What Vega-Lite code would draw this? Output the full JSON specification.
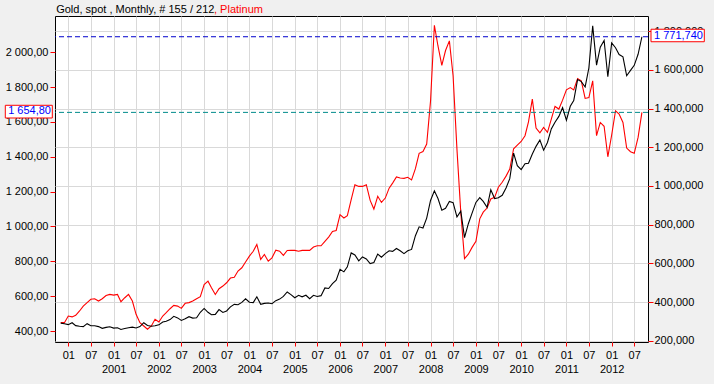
{
  "$schema": "https://vega.github.io/schema/vega-lite/v6.json",
  "width": 593,
  "height": 326,
  "autosize": {"type": "none"},
  "padding": {"left": 55, "top": 16, "right": 66, "bottom": 42},
  "background": "#f0f0f0",
  "config": {
    "locale": {"number": {"decimal": ",", "thousands": " ", "grouping": [3], "currency": ["", ""]}},
    "view": {"fill": "white", "stroke": "black", "strokeWidth": 1},
    "font": "Liberation Sans",
    "axis": {"labelFont": "Liberation Sans", "labelFontSize": 11, "labelColor": "black", "tickColor": "#ff0000", "domain": false, "gridColor": "#d9d9d9", "titleFont": "Liberation Sans", "titleFontSize": 11, "titleFontWeight": "normal"}
  },
  "datasets": {
    "prices": [
      {"date": "1999-11-01", "platinum": 448, "gold": 291},
      {"date": "1999-12-01", "platinum": 448, "gold": 288},
      {"date": "2000-01-01", "platinum": 486, "gold": 283},
      {"date": "2000-02-01", "platinum": 481, "gold": 293},
      {"date": "2000-03-01", "platinum": 490, "gold": 278},
      {"date": "2000-04-01", "platinum": 515, "gold": 275},
      {"date": "2000-05-01", "platinum": 543, "gold": 273},
      {"date": "2000-06-01", "platinum": 563, "gold": 288},
      {"date": "2000-07-01", "platinum": 582, "gold": 277},
      {"date": "2000-08-01", "platinum": 585, "gold": 277},
      {"date": "2000-09-01", "platinum": 572, "gold": 273},
      {"date": "2000-10-01", "platinum": 585, "gold": 264},
      {"date": "2000-11-01", "platinum": 604, "gold": 269},
      {"date": "2000-12-01", "platinum": 610, "gold": 272},
      {"date": "2001-01-01", "platinum": 606, "gold": 265},
      {"date": "2001-02-01", "platinum": 610, "gold": 267},
      {"date": "2001-03-01", "platinum": 568, "gold": 258},
      {"date": "2001-04-01", "platinum": 591, "gold": 263},
      {"date": "2001-05-01", "platinum": 610, "gold": 267},
      {"date": "2001-06-01", "platinum": 572, "gold": 270},
      {"date": "2001-07-01", "platinum": 496, "gold": 266},
      {"date": "2001-08-01", "platinum": 448, "gold": 273},
      {"date": "2001-09-01", "platinum": 429, "gold": 293},
      {"date": "2001-10-01", "platinum": 410, "gold": 279},
      {"date": "2001-11-01", "platinum": 429, "gold": 275},
      {"date": "2001-12-01", "platinum": 467, "gold": 277},
      {"date": "2002-01-01", "platinum": 452, "gold": 282},
      {"date": "2002-02-01", "platinum": 486, "gold": 297},
      {"date": "2002-03-01", "platinum": 505, "gold": 301},
      {"date": "2002-04-01", "platinum": 528, "gold": 309},
      {"date": "2002-05-01", "platinum": 547, "gold": 326},
      {"date": "2002-06-01", "platinum": 543, "gold": 318},
      {"date": "2002-07-01", "platinum": 530, "gold": 305},
      {"date": "2002-08-01", "platinum": 559, "gold": 313},
      {"date": "2002-09-01", "platinum": 563, "gold": 324},
      {"date": "2002-10-01", "platinum": 572, "gold": 317},
      {"date": "2002-11-01", "platinum": 585, "gold": 319},
      {"date": "2002-12-01", "platinum": 597, "gold": 347},
      {"date": "2003-01-01", "platinum": 667, "gold": 367},
      {"date": "2003-02-01", "platinum": 686, "gold": 347},
      {"date": "2003-03-01", "platinum": 648, "gold": 334},
      {"date": "2003-04-01", "platinum": 610, "gold": 336},
      {"date": "2003-05-01", "platinum": 643, "gold": 361},
      {"date": "2003-06-01", "platinum": 658, "gold": 346},
      {"date": "2003-07-01", "platinum": 677, "gold": 354},
      {"date": "2003-08-01", "platinum": 704, "gold": 375},
      {"date": "2003-09-01", "platinum": 709, "gold": 388},
      {"date": "2003-10-01", "platinum": 744, "gold": 386},
      {"date": "2003-11-01", "platinum": 763, "gold": 398},
      {"date": "2003-12-01", "platinum": 796, "gold": 417},
      {"date": "2004-01-01", "platinum": 830, "gold": 399},
      {"date": "2004-02-01", "platinum": 858, "gold": 397},
      {"date": "2004-03-01", "platinum": 897, "gold": 427},
      {"date": "2004-04-01", "platinum": 811, "gold": 388},
      {"date": "2004-05-01", "platinum": 839, "gold": 393},
      {"date": "2004-06-01", "platinum": 801, "gold": 395},
      {"date": "2004-07-01", "platinum": 820, "gold": 391},
      {"date": "2004-08-01", "platinum": 864, "gold": 407},
      {"date": "2004-09-01", "platinum": 858, "gold": 415},
      {"date": "2004-10-01", "platinum": 834, "gold": 429},
      {"date": "2004-11-01", "platinum": 862, "gold": 452},
      {"date": "2004-12-01", "platinum": 863, "gold": 438},
      {"date": "2005-01-01", "platinum": 863, "gold": 422},
      {"date": "2005-02-01", "platinum": 858, "gold": 435},
      {"date": "2005-03-01", "platinum": 863, "gold": 427},
      {"date": "2005-04-01", "platinum": 863, "gold": 435},
      {"date": "2005-05-01", "platinum": 863, "gold": 417},
      {"date": "2005-06-01", "platinum": 882, "gold": 435},
      {"date": "2005-07-01", "platinum": 889, "gold": 429},
      {"date": "2005-08-01", "platinum": 889, "gold": 433},
      {"date": "2005-09-01", "platinum": 914, "gold": 473},
      {"date": "2005-10-01", "platinum": 939, "gold": 470},
      {"date": "2005-11-01", "platinum": 971, "gold": 495},
      {"date": "2005-12-01", "platinum": 977, "gold": 513},
      {"date": "2006-01-01", "platinum": 1068, "gold": 569},
      {"date": "2006-02-01", "platinum": 1049, "gold": 556},
      {"date": "2006-03-01", "platinum": 1062, "gold": 582},
      {"date": "2006-04-01", "platinum": 1154, "gold": 654},
      {"date": "2006-05-01", "platinum": 1240, "gold": 643},
      {"date": "2006-06-01", "platinum": 1230, "gold": 613},
      {"date": "2006-07-01", "platinum": 1230, "gold": 633},
      {"date": "2006-08-01", "platinum": 1240, "gold": 623},
      {"date": "2006-09-01", "platinum": 1150, "gold": 599},
      {"date": "2006-10-01", "platinum": 1100, "gold": 604},
      {"date": "2006-11-01", "platinum": 1173, "gold": 648},
      {"date": "2006-12-01", "platinum": 1138, "gold": 632},
      {"date": "2007-01-01", "platinum": 1163, "gold": 650},
      {"date": "2007-02-01", "platinum": 1220, "gold": 665},
      {"date": "2007-03-01", "platinum": 1249, "gold": 662},
      {"date": "2007-04-01", "platinum": 1284, "gold": 677},
      {"date": "2007-05-01", "platinum": 1278, "gold": 665},
      {"date": "2007-06-01", "platinum": 1276, "gold": 650},
      {"date": "2007-07-01", "platinum": 1282, "gold": 665},
      {"date": "2007-08-01", "platinum": 1267, "gold": 672},
      {"date": "2007-09-01", "platinum": 1332, "gold": 743},
      {"date": "2007-10-01", "platinum": 1420, "gold": 789},
      {"date": "2007-11-01", "platinum": 1430, "gold": 783},
      {"date": "2007-12-01", "platinum": 1473, "gold": 834},
      {"date": "2008-01-01", "platinum": 1720, "gold": 925},
      {"date": "2008-02-01", "platinum": 2155, "gold": 975},
      {"date": "2008-03-01", "platinum": 2036, "gold": 935},
      {"date": "2008-04-01", "platinum": 1925, "gold": 875},
      {"date": "2008-05-01", "platinum": 2010, "gold": 885},
      {"date": "2008-06-01", "platinum": 2065, "gold": 920},
      {"date": "2008-07-01", "platinum": 1864, "gold": 914},
      {"date": "2008-08-01", "platinum": 1444, "gold": 840},
      {"date": "2008-09-01", "platinum": 1080, "gold": 870},
      {"date": "2008-10-01", "platinum": 815, "gold": 733},
      {"date": "2008-11-01", "platinum": 841, "gold": 805},
      {"date": "2008-12-01", "platinum": 880, "gold": 860},
      {"date": "2009-01-01", "platinum": 915, "gold": 915},
      {"date": "2009-02-01", "platinum": 1044, "gold": 940},
      {"date": "2009-03-01", "platinum": 1082, "gold": 920},
      {"date": "2009-04-01", "platinum": 1106, "gold": 890},
      {"date": "2009-05-01", "platinum": 1158, "gold": 980},
      {"date": "2009-06-01", "platinum": 1167, "gold": 935},
      {"date": "2009-07-01", "platinum": 1225, "gold": 939},
      {"date": "2009-08-01", "platinum": 1254, "gold": 952},
      {"date": "2009-09-01", "platinum": 1289, "gold": 990},
      {"date": "2009-10-01", "platinum": 1330, "gold": 1038},
      {"date": "2009-11-01", "platinum": 1446, "gold": 1170},
      {"date": "2009-12-01", "platinum": 1467, "gold": 1105},
      {"date": "2010-01-01", "platinum": 1488, "gold": 1085},
      {"date": "2010-02-01", "platinum": 1521, "gold": 1115},
      {"date": "2010-03-01", "platinum": 1601, "gold": 1118},
      {"date": "2010-04-01", "platinum": 1731, "gold": 1165},
      {"date": "2010-05-01", "platinum": 1565, "gold": 1205},
      {"date": "2010-06-01", "platinum": 1537, "gold": 1238},
      {"date": "2010-07-01", "platinum": 1568, "gold": 1185},
      {"date": "2010-08-01", "platinum": 1540, "gold": 1225},
      {"date": "2010-09-01", "platinum": 1616, "gold": 1295},
      {"date": "2010-10-01", "platinum": 1689, "gold": 1330},
      {"date": "2010-11-01", "platinum": 1674, "gold": 1360},
      {"date": "2010-12-01", "platinum": 1725, "gold": 1405},
      {"date": "2011-01-01", "platinum": 1784, "gold": 1340},
      {"date": "2011-02-01", "platinum": 1797, "gold": 1412},
      {"date": "2011-03-01", "platinum": 1784, "gold": 1442},
      {"date": "2011-04-01", "platinum": 1849, "gold": 1550},
      {"date": "2011-05-01", "platinum": 1836, "gold": 1540},
      {"date": "2011-06-01", "platinum": 1735, "gold": 1512},
      {"date": "2011-07-01", "platinum": 1740, "gold": 1610},
      {"date": "2011-08-01", "platinum": 1836, "gold": 1828},
      {"date": "2011-09-01", "platinum": 1521, "gold": 1625},
      {"date": "2011-10-01", "platinum": 1597, "gold": 1718},
      {"date": "2011-11-01", "platinum": 1575, "gold": 1752},
      {"date": "2011-12-01", "platinum": 1400, "gold": 1565},
      {"date": "2012-01-01", "platinum": 1525, "gold": 1740},
      {"date": "2012-02-01", "platinum": 1664, "gold": 1715},
      {"date": "2012-03-01", "platinum": 1645, "gold": 1680},
      {"date": "2012-04-01", "platinum": 1597, "gold": 1668},
      {"date": "2012-05-01", "platinum": 1450, "gold": 1570},
      {"date": "2012-06-01", "platinum": 1429, "gold": 1598},
      {"date": "2012-07-01", "platinum": 1420, "gold": 1624},
      {"date": "2012-08-01", "platinum": 1511, "gold": 1681},
      {"date": "2012-09-01", "platinum": 1654.8, "gold": 1771.74}
    ]
  },
  "data": {"name": "prices"},
  "layer": [
    {
      "encoding": {
        "y": {
          "field": "platinum", "type": "quantitative",
          "scale": {"domain": [337, 2208], "nice": false, "zero": false},
          "axis": {"orient": "left", "title": ", Platinum", "titleColor": "#ff0000", "titleAngle": 0, "titleX": 158.5, "titleY": -4, "titleAlign": "left", "titleBaseline": "alphabetic", "values": [400, 600, 800, 1000, 1200, 1400, 1600, 1800, 2000], "format": ",.2f", "tickSize": 5, "labelPadding": 2, "grid": false}
        }
      },
      "layer": [
        {
          "mark": {"type": "line", "color": "#ff0000", "strokeWidth": 1.1},
          "encoding": {
            "x": {
              "field": "date", "type": "temporal",
              "scale": {"domain": [{"year": 1999, "month": 9, "date": 16}, {"year": 2012, "month": 10, "date": 20}]},
              "axis": {"title": null, "tickCount": {"interval": "month", "step": 6}, "labelExpr": "month(datum.value) == 0 && year(datum.value) > 2000 ? [timeFormat(datum.value, '%m'), timeFormat(datum.value, '%Y')] : timeFormat(datum.value, '%m')", "labelLineHeight": 14, "labelOverlap": false, "labelFlush": false, "labelBaseline": "top", "tickSize": 4, "labelPadding": 3, "grid": true}
            }
          }
        },
        {
          "transform": [{"joinaggregate": [{"op": "max", "field": "date", "as": "last"}]}, {"filter": "time(datum.date) == time(datum.last)"}],
          "mark": {"type": "rule", "color": "#008b8b", "strokeDash": [5, 3], "strokeWidth": 1},
          "encoding": {}
        },
        {
          "transform": [{"joinaggregate": [{"op": "max", "field": "date", "as": "last"}]}, {"filter": "time(datum.date) == time(datum.last)"}],
          "mark": {"type": "point", "shape": "M-49.7,-7.1L-2.7,-7.1L-2.7,5.6L-49.7,5.6Z", "size": 4, "filled": true, "fill": "white", "stroke": "#ff0000", "strokeWidth": 1, "opacity": 1},
          "encoding": {
            "x": {"datum": {"year": 1999, "month": 9, "date": 16}, "type": "temporal", "scale": {"domain": [{"year": 1999, "month": 9, "date": 16}, {"year": 2012, "month": 10, "date": 20}]}}
          }
        },
        {
          "transform": [{"joinaggregate": [{"op": "max", "field": "date", "as": "last"}]}, {"filter": "time(datum.date) == time(datum.last)"}],
          "mark": {"type": "text", "align": "right", "dx": -4, "dy": -1, "color": "#0000ff", "fontSize": 11, "font": "Liberation Sans"},
          "encoding": {
            "x": {"datum": {"year": 1999, "month": 9, "date": 16}, "type": "temporal", "scale": {"domain": [{"year": 1999, "month": 9, "date": 16}, {"year": 2012, "month": 10, "date": 20}]}},
            "text": {"field": "platinum", "type": "quantitative", "format": ",.2f"}
          }
        }
      ]
    },
    {
      "encoding": {
        "y": {
          "field": "gold", "type": "quantitative",
          "scale": {"domain": [193.3, 1879], "nice": false, "zero": false},
          "axis": {"orient": "right", "title": "Gold, spot , Monthly, # 155 / 212", "titleColor": "black", "titleAngle": 0, "titleX": -592.3, "titleY": -4, "titleAlign": "left", "titleBaseline": "alphabetic", "values": [200, 400, 600, 800, 1000, 1200, 1400, 1600, 1800], "format": ",.3f", "tickSize": 5, "labelPadding": 1, "grid": true}
        }
      },
      "layer": [
        {
          "mark": {"type": "line", "color": "#000000", "strokeWidth": 1.1},
          "encoding": {
            "x": {
              "field": "date", "type": "temporal",
              "scale": {"domain": [{"year": 1999, "month": 9, "date": 16}, {"year": 2012, "month": 10, "date": 20}]},
              "axis": {"title": null, "tickCount": {"interval": "month", "step": 6}, "labelExpr": "month(datum.value) == 0 && year(datum.value) > 2000 ? [timeFormat(datum.value, '%m'), timeFormat(datum.value, '%Y')] : timeFormat(datum.value, '%m')", "labelLineHeight": 14, "labelOverlap": false, "labelFlush": false, "labelBaseline": "top", "tickSize": 4, "labelPadding": 3, "grid": true}
            }
          }
        },
        {
          "transform": [{"joinaggregate": [{"op": "max", "field": "date", "as": "last"}]}, {"filter": "time(datum.date) == time(datum.last)"}],
          "mark": {"type": "rule", "color": "#0000cc", "strokeDash": [5, 3], "strokeWidth": 1},
          "encoding": {}
        },
        {
          "transform": [{"joinaggregate": [{"op": "max", "field": "date", "as": "last"}]}, {"filter": "time(datum.date) == time(datum.last)"}],
          "mark": {"type": "point", "shape": "M3,-7.5L56.3,-7.5L56.3,5L3,5Z", "size": 4, "filled": true, "fill": "white", "stroke": "#ff0000", "strokeWidth": 1, "opacity": 1},
          "encoding": {
            "x": {"datum": {"year": 2012, "month": 10, "date": 20}, "type": "temporal", "scale": {"domain": [{"year": 1999, "month": 9, "date": 16}, {"year": 2012, "month": 10, "date": 20}]}}
          }
        },
        {
          "transform": [{"joinaggregate": [{"op": "max", "field": "date", "as": "last"}]}, {"filter": "time(datum.date) == time(datum.last)"}],
          "mark": {"type": "text", "align": "left", "dx": 6, "dy": -1, "color": "#0000ff", "fontSize": 11, "font": "Liberation Sans"},
          "encoding": {
            "x": {"datum": {"year": 2012, "month": 10, "date": 20}, "type": "temporal", "scale": {"domain": [{"year": 1999, "month": 9, "date": 16}, {"year": 2012, "month": 10, "date": 20}]}},
            "text": {"field": "gold", "type": "quantitative", "format": ",.3f"}
          }
        }
      ]
    }
  ],
  "resolve": {"scale": {"y": "independent"}}
}
